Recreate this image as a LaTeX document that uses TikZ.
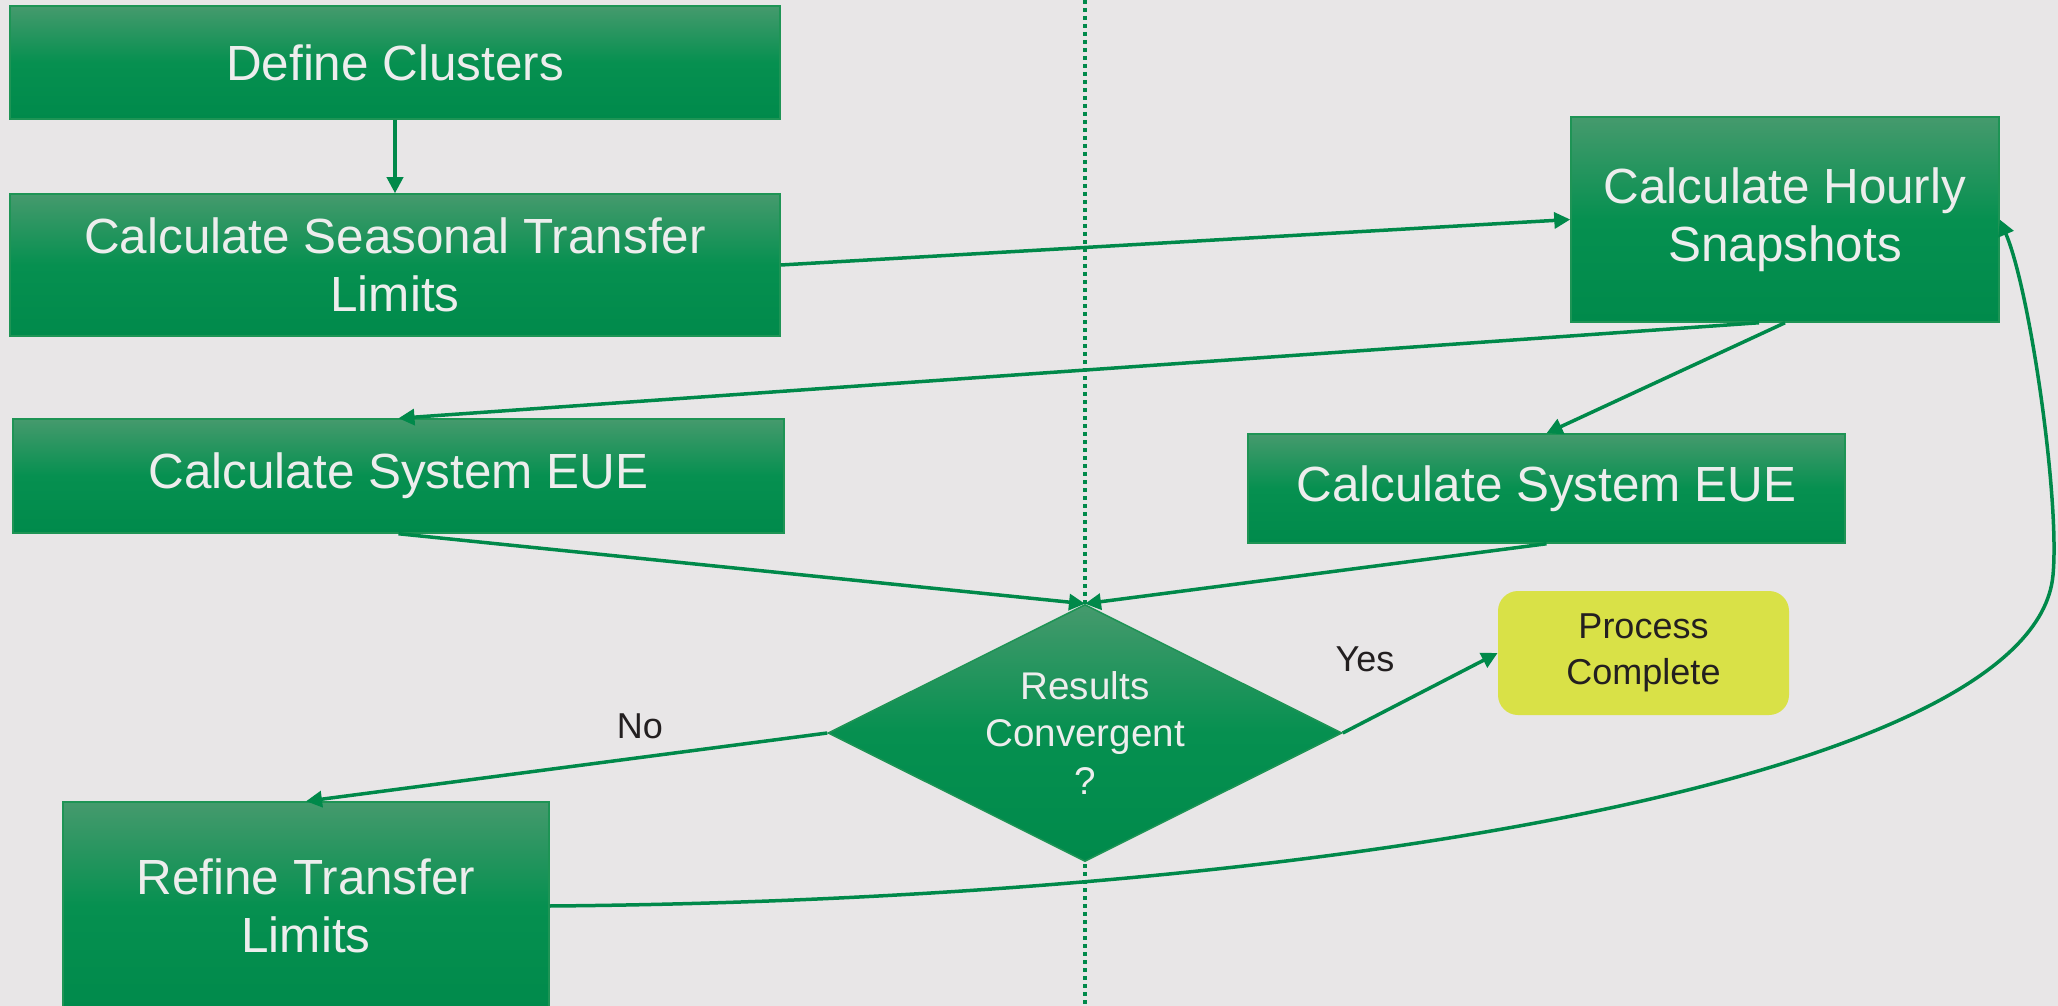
\documentclass[tikz,border=0pt]{standalone}
\usepackage{fontspec}
\setmainfont{Liberation Sans}
\usetikzlibrary{arrows.meta,shapes.geometric}

\definecolor{pagebg}{HTML}{E8E6E7}
\definecolor{flowgreen}{HTML}{00894A}
\definecolor{shadetop}{HTML}{459A6D}
\definecolor{shademid}{HTML}{069050}
\definecolor{shadebot}{HTML}{008A4B}
\definecolor{boxline}{HTML}{1E9455}
\definecolor{boxtext}{HTML}{EDEDED}
\definecolor{donefill}{HTML}{D9E147}
\definecolor{darktext}{HTML}{231F20}

\begin{document}
\begin{tikzpicture}[x=0.5pt,y=-0.5pt,
  greenfill/.style={draw=boxline, line width=0.75pt,
    top color=shadetop, bottom color=shadebot, middle color=shademid,
    text=boxtext, align=center, inner sep=0pt},
  stepbox/.style={greenfill, rectangle,
    font=\fontsize{24.7}{29}\selectfont},
  decision/.style={greenfill, diamond, aspect=2,
    font=\fontsize{19.3}{23.8}\selectfont},
  donebox/.style={rectangle, rounded corners=10pt, fill=donefill,
    text=darktext, align=center, inner sep=0pt,
    font=\fontsize{18}{23}\selectfont},
  branchlabel/.style={text=darktext, inner sep=0pt,
    font=\fontsize{18}{22}\selectfont},
  flow/.style={draw=flowgreen, line width=1.75pt,
    -{Triangle[length=8pt,width=8pt]}},
  divider/.style={draw=flowgreen, line width=2pt,
    dash pattern=on 2pt off 2pt}
]
% page
\fill[pagebg] (0,0) rectangle (2058,1006);
\clip (0,0) rectangle (2058,1006);
\useasboundingbox (0,0) rectangle (2058,1006);

% vertical divider between the two methods
\draw[divider] (1085,0) -- (1085,1006);

% process steps
\node[stepbox, minimum width=385pt, minimum height=56.5pt] (define) at (395,62.5) {Define Clusters};
\node[stepbox, minimum width=385pt, minimum height=71pt] (seasonal) at (395,265) {Calculate Seasonal Transfer\\Limits};
\node[stepbox, minimum width=214pt, minimum height=102.5pt] (hourly) at (1785,219.5) {Calculate Hourly\\Snapshots};
\node[stepbox, minimum width=385.5pt, minimum height=57pt] (eueleft) at (398.5,476) {Calculate System EUE};
\node[stepbox, minimum width=298.5pt, minimum height=54.5pt] (eueright) at (1546.5,488.5) {Calculate System EUE};
\node[decision, minimum width=257pt, minimum height=128.5pt] (converge) at (1085,733) {Results\\Convergent\\?};
\node[donebox, minimum width=145.5pt, minimum height=62pt] (done) at (1643.5,653) {Process\\Complete};
\node[stepbox, minimum width=243pt, minimum height=104pt] (refine) at (306,906) {Refine Transfer\\Limits};

% branch labels
\node[branchlabel] (nolabel) at (640,726) {No};
\node[branchlabel] (yeslabel) at (1365,659) {Yes};

% connectors
\draw[flow] (define.south) -- (seasonal.north);
\draw[flow] (seasonal.east) -- (hourly.west);
\draw[flow] ([xshift=-13pt]hourly.south) -- (eueleft.north);
\draw[flow] (hourly.south) -- (eueright.north);
\draw[flow] (eueleft.south) -- (converge.north);
\draw[flow] (eueright.south) -- (converge.north);
\draw[flow] (converge.west) -- (refine.north);
\draw[flow] (converge.east) -- (done.west);
\draw[flow] (refine.east) .. controls (1300,900) and (2035,780) .. (2053,575)
  .. controls (2060,500) and (2030,290) .. (hourly.east);
\end{tikzpicture}
\end{document}
